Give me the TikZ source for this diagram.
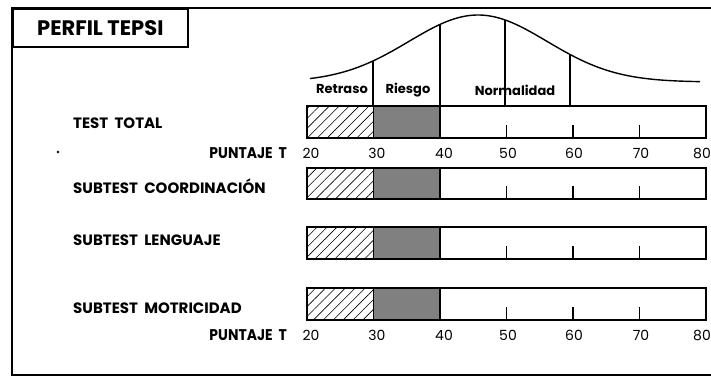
\documentclass[tikz,border=0pt]{standalone}
\usepackage{fontspec}
\setmainfont{Poppins}
\newfontfamily\condfont[FakeStretch=0.9]{Poppins}
\usetikzlibrary{patterns.meta}
\tikzset{
  frame/.style={line width=1.6pt},
  barbox/.style={draw, line width=1.5pt},
  hatchfill/.style={pattern={Lines[angle=45,distance=7pt,line width=0.6pt]}},
  riskfill/.style={fill=black!50},
  tickline/.style={line width=1.2pt},
  curveline/.style={line width=1.4pt},
  rowlabel/.style={anchor=west, font=\bfseries\fontsize{15}{15}\selectfont, inner sep=0pt},
  ptlabel/.style={anchor=east, font=\condfont\bfseries\fontsize{15.5}{15.5}\selectfont, inner sep=0pt},
  numlabel/.style={font=\fontsize{14}{14}\selectfont, inner sep=0pt},
  zonelabel/.style={anchor=base, font=\bfseries\fontsize{13}{13}\selectfont, inner sep=0pt}
}
\begin{document}
\begin{tikzpicture}[x=1pt,y=-1pt,
  declare function={gauss(\t)=82-67*exp(-0.5*((\t-478)/69)^2);}]
\useasboundingbox (0,0) rectangle (711,376);
% outer frame
\draw[frame] (711,8) -- (12,8) -- (12,375) -- (711,375);
% title box
\node[draw, line width=1.6pt, minimum width=175pt, minimum height=38pt, anchor=north west,
  font=\bfseries\fontsize{21}{21}\selectfont, inner sep=0pt] (title) at (12,8) {PERFIL TEPSI};
% bell curve
\draw[curveline] plot[domain=310:700, samples=120, smooth] (\x,{gauss(\x)});
\draw[tickline] (373,{gauss(373)}) -- (373,106);
\draw[tickline] (440,{gauss(440)}) -- (440,106);
\draw[tickline] (505,{gauss(505)}) -- (505,106);
\draw[tickline] (570,{gauss(570)}) -- (570,106);
\node[zonelabel] (retraso) at (342,93) {Retraso};
\node[zonelabel] (riesgo) at (408,93) {Riesgo};
\node[zonelabel] (normal) at (515,95) {Normalidad};
% bars
\foreach \top/\bot/\nm in {106/138/total, 168/199/coord, 227/259/leng, 288/320/motr}{
  \fill[white] (307,\top) rectangle (706,\bot);
  \fill[hatchfill] (307,\top) rectangle (373.5,\bot);
  \fill[riskfill] (373.5,\top) rectangle (440,\bot);
  \draw[line width=1.3pt] (373.5,\top) -- (373.5,\bot);
  \draw[line width=1.3pt] (440,\top) -- (440,\bot);
  \foreach \tx in {506.5,573,639.5}{
    \draw[tickline] (\tx,\bot) -- (\tx,\bot-13);
  }
  \draw[barbox] (307,\top) rectangle (706,\bot);
}
% row labels
\node[rowlabel] (l1) at (73,123) {TEST\ \ TOTAL};
\node[rowlabel] (l2) at (73,186) {SUBTEST\ \ COORDINACIÓN};
\node[rowlabel] (l3) at (73,240) {SUBTEST\ \ LENGUAJE};
\node[rowlabel] (l4) at (73,308) {SUBTEST\ \ MOTRICIDAD};
% scales
\node[ptlabel] (p1) at (287,153) {PUNTAJE\ \ T};
\node[ptlabel] (p2) at (287,335) {PUNTAJE\ \ T};
\foreach \v/\xx in {20/311,30/377,40/444,50/508,60/574,70/641}{
  \node[numlabel] at (\xx,153) {\v};
  \node[numlabel] at (\xx,335) {\v};
}
\node[numlabel, anchor=east] at (711,153) {80};
\node[numlabel, anchor=east] at (711,335) {80};
\fill (58,152) circle (1.4pt);
\end{tikzpicture}
\end{document}
